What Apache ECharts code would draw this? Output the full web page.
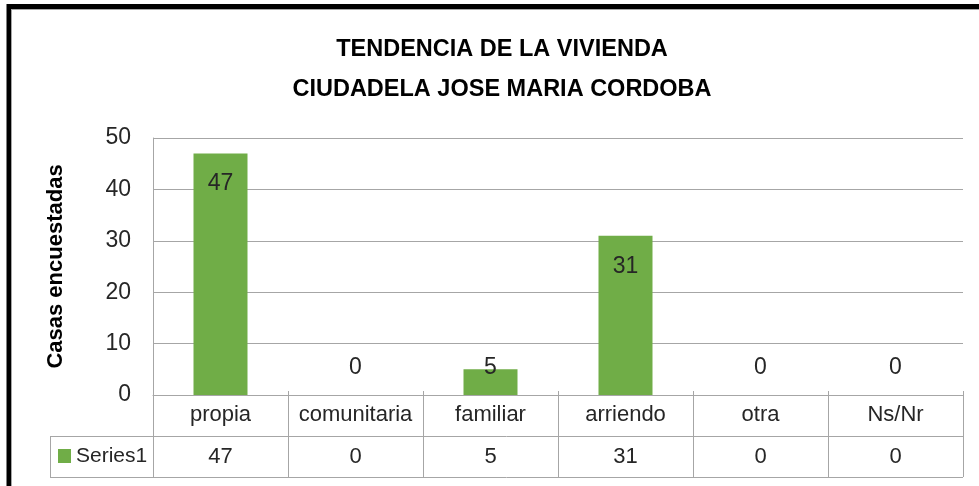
<!DOCTYPE html>
<html>
<head>
<meta charset="utf-8">
<script src="https://cdn.jsdelivr.net/npm/echarts@6/dist/echarts.min.js"></script>
<style>
  html, body { margin: 0; padding: 0; background: #fff; }
  #chart { width: 979px; height: 486px; }
</style>
</head>
<body>
<div id="chart"></div>
<script>
const titleLines = ['TENDENCIA DE LA VIVIENDA', 'CIUDADELA JOSE MARIA CORDOBA']
const categories = ['propia', 'comunitaria', 'familiar', 'arriendo', 'otra', 'Ns/Nr']
const values = [47, 0, 5, 31, 0, 0]
const seriesName = 'Series1'
const yTicks = { min: 0, max: 50, interval: 10 }

const FONT = "'Liberation Sans', Arial, sans-serif"
const TEXT = '#262626'
const GRID_LINE = '#a6a6a6'
const GREEN = '#70AD47'

const chart = echarts.init(document.getElementById('chart'))

chart.setOption({
  animation: false,
  textStyle: { fontFamily: FONT },
  title: {
    text: titleLines.join('\n'),
    left: 497,
    top: 25,
    textAlign: 'center',
    textStyle: { fontFamily: FONT, fontSize: 23.5, fontWeight: 'bold', color: '#000', lineHeight: 40 },
  },
  grid: { left: 153, right: 16, top: 138, bottom: 91 },
  xAxis: {
    type: 'category',
    data: categories,
    axisLine: { lineStyle: { color: GRID_LINE } },
    axisTick: { show: false },
    axisLabel: { interval: 0, fontSize: 22, color: TEXT, margin: 9, fontFamily: FONT },
  },
  yAxis: {
    type: 'value',
    min: yTicks.min,
    max: yTicks.max,
    interval: yTicks.interval,
    name: 'Casas encuestadas',
    nameLocation: 'middle',
    nameRotate: 90,
    nameGap: 86,
    nameTextStyle: { fontSize: 22, fontWeight: 'bold', color: '#000', fontFamily: FONT },
    axisLine: { show: true, lineStyle: { color: GRID_LINE } },
    axisTick: { show: false },
    axisLabel: { fontSize: 23, color: TEXT, margin: 22, fontFamily: FONT },
    splitLine: { lineStyle: { color: GRID_LINE } },
  },
  series: [
    {
      name: seriesName,
      type: 'bar',
      barWidth: 54,
      itemStyle: { color: GREEN },
      data: values.map((v) => ({
        value: v,
        label: v < 10
          ? { position: 'insideBottom', distance: 16 }
          : { position: 'insideTop', distance: 19 },
      })),
      label: { show: true, fontSize: 23, color: TEXT, fontFamily: FONT },
    },
  ],
})

// data table under the axis, laid out from the category axis
function drawTable() {
  const c0 = chart.convertToPixel({ xAxisIndex: 0 }, 0)
  const c1 = chart.convertToPixel({ xAxisIndex: 0 }, 1)
  const band = c1 - c0
  const left = c0 - band / 2
  const right = left + band * categories.length
  const top = chart.convertToPixel({ yAxisIndex: 0 }, 0)
  const rowH = 41
  const mid = top + rowH
  const bottom = top + rowH * 2
  const legendLeft = 50
  const line = (x1, y1, x2, y2) => ({
    type: 'line',
    shape: { x1, y1, x2, y2 },
    style: { stroke: GRID_LINE, lineWidth: 1 },
    silent: true,
  })
  const els = []
  for (let i = 0; i <= categories.length; i++) {
    const x = Math.round(left + band * i) + 0.5
    els.push(line(x, top - 4, x, bottom))
  }
  els.push(line(legendLeft + 0.5, mid, legendLeft + 0.5, bottom))
  els.push(line(legendLeft, Math.round(mid) + 0.5, right, Math.round(mid) + 0.5))
  els.push(line(legendLeft, Math.round(bottom) + 0.5, right, Math.round(bottom) + 0.5))
  values.forEach((v, i) => {
    els.push({
      type: 'text',
      x: c0 + band * i,
      y: mid + rowH / 2,
      style: { text: String(v), fontSize: 22, fill: TEXT, fontFamily: FONT, align: 'center', verticalAlign: 'middle' },
      silent: true,
    })
  })
  els.push({
    type: 'rect',
    shape: { x: 58, y: mid + 13, width: 13, height: 14 },
    style: { fill: GREEN },
    silent: true,
  })
  els.push({
    type: 'text',
    x: 76,
    y: mid + rowH / 2,
    style: { text: seriesName, fontSize: 21, fill: TEXT, fontFamily: FONT, align: 'left', verticalAlign: 'middle' },
    silent: true,
  })
  // outer frame: thick black top and left edge
  els.push({ type: 'line', shape: { x1: 7, y1: 6.5, x2: 979, y2: 6.5 }, style: { stroke: '#000', lineWidth: 5 }, silent: true })
  els.push({ type: 'line', shape: { x1: 9, y1: 4, x2: 9, y2: 486 }, style: { stroke: '#000', lineWidth: 5 }, silent: true })
  els.push(line(11, 9.5, 979, 9.5))
  els.push(line(11.5, 9, 11.5, 486))
  chart.setOption({ graphic: els })
}

drawTable()
</script>
</body>
</html>
